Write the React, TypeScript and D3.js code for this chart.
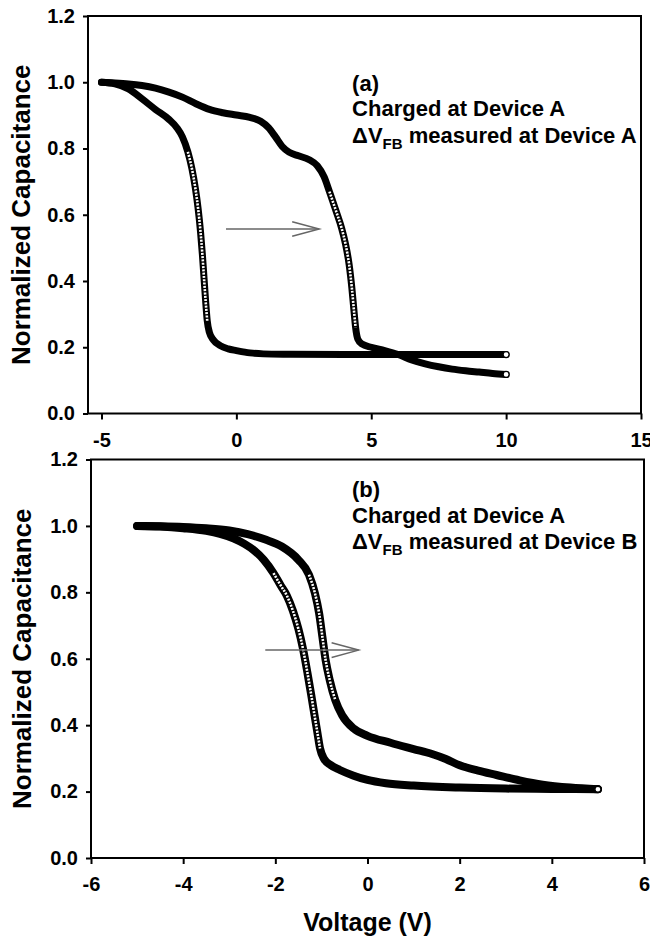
import { useEffect, useRef } from 'react';
import * as d3 from 'd3';

type Pt = [number, number];

// (a) both sweeps as [voltage, normalized capacitance]
const curveA1: Pt[] = [
  [-5.0, 1.0], [-4.5, 0.995], [-4.0, 0.98], [-3.5, 0.95], [-3.0, 0.918], [-2.5, 0.888],
  [-2.2, 0.862], [-2.0, 0.835], [-1.8, 0.79], [-1.65, 0.74], [-1.52, 0.68], [-1.42, 0.62],
  [-1.33, 0.55], [-1.26, 0.48], [-1.2, 0.41], [-1.14, 0.34], [-1.08, 0.28], [-1.0, 0.245],
  [-0.85, 0.222], [-0.6, 0.205], [-0.3, 0.195], [0.0, 0.19], [0.5, 0.183], [1.0, 0.18],
  [2.0, 0.179], [4.0, 0.178], [6.0, 0.178], [8.0, 0.178], [10.0, 0.178]
];
const curveA2: Pt[] = [
  [-5.0, 1.0], [-4.5, 0.998], [-4.0, 0.995], [-3.5, 0.99], [-3.0, 0.982], [-2.5, 0.97],
  [-2.0, 0.955], [-1.5, 0.935], [-1.0, 0.918], [-0.5, 0.908], [0.0, 0.901], [0.5, 0.894],
  [0.9, 0.882], [1.2, 0.862], [1.45, 0.835], [1.7, 0.806], [1.95, 0.789], [2.3, 0.778],
  [2.7, 0.766], [3.0, 0.748], [3.25, 0.715], [3.45, 0.67], [3.7, 0.61], [3.9, 0.56],
  [4.05, 0.51], [4.18, 0.45], [4.28, 0.38], [4.36, 0.31], [4.42, 0.26], [4.5, 0.225],
  [4.65, 0.21], [5.0, 0.2], [5.5, 0.19], [6.0, 0.178], [6.5, 0.162], [7.0, 0.15],
  [7.5, 0.141], [8.0, 0.134], [8.5, 0.129], [9.0, 0.125], [9.5, 0.121], [10.0, 0.118]
];

// (b)
const curveB1: Pt[] = [
  [-5.0, 1.0], [-4.5, 0.998], [-4.0, 0.993], [-3.5, 0.985], [-3.2, 0.976], [-2.9, 0.962],
  [-2.67, 0.946], [-2.45, 0.925], [-2.25, 0.898], [-2.04, 0.858], [-1.88, 0.82], [-1.75, 0.79],
  [-1.62, 0.745], [-1.5, 0.69], [-1.4, 0.63], [-1.3, 0.555], [-1.22, 0.49], [-1.15, 0.43],
  [-1.09, 0.38], [-1.03, 0.33], [-0.95, 0.3], [-0.8, 0.28], [-0.6, 0.265], [-0.3, 0.248],
  [0.0, 0.235], [0.4, 0.225], [1.0, 0.218], [2.0, 0.212], [3.0, 0.209], [4.0, 0.208], [5.0, 0.207]
];
const curveB2: Pt[] = [
  [-5.0, 1.0], [-4.5, 0.999], [-4.0, 0.997], [-3.5, 0.993], [-3.0, 0.986], [-2.6, 0.975],
  [-2.2, 0.958], [-1.86, 0.938], [-1.5, 0.898], [-1.27, 0.853], [-1.14, 0.797], [-1.05, 0.737],
  [-0.98, 0.667], [-0.91, 0.597], [-0.82, 0.536], [-0.7, 0.476], [-0.55, 0.43], [-0.3, 0.39],
  [0.0, 0.368], [0.5, 0.347], [1.0, 0.328], [1.4, 0.313], [1.7, 0.298], [2.0, 0.279],
  [2.4, 0.263], [2.8, 0.25], [3.3, 0.234], [3.8, 0.221], [4.4, 0.212], [5.0, 0.207]
];

const capTicks = [0, 0.2, 0.4, 0.6, 0.8, 1.0, 1.2];
const voltTicksA = [-5, 0, 5, 10, 15];
const voltTicksB = [-6, -4, -2, 0, 2, 4, 6];

// shift arrows, [from, to] in data units
const arrowA: Pt[] = [[-0.384, 0.557], [3.07, 0.557]];
const arrowB: Pt[] = [[-2.218, 0.626], [-0.193, 0.626]];

const yTitle = 'Normalized Capacitance';
const xTitle = 'Voltage (V)';

const font = '"Liberation Sans", Arial, Helvetica, sans-serif';

const panels = [
  {
    left: 88, right: 641, top: 16, bottom: 413.5, xDomain: [-5.5, 15], xTicks: voltTicksA,
    curves: [curveA1, curveA2], lineW: 7, dotSlope: 2.6,
    tag: '(a)', measuredAt: 'A', note: [4.29, 0.974] as Pt, arrow: arrowA, titleX: 30
  },
  {
    left: 91, right: 644, top: 459.5, bottom: 858, xDomain: [-6, 6], xTicks: voltTicksB,
    curves: [curveB1, curveB2], lineW: 8, dotSlope: 1.3,
    tag: '(b)', measuredAt: 'B', note: [-0.336, 1.087] as Pt, arrow: arrowB, titleX: 31
  }
];

export default function App() {
  const svgRef = useRef<SVGSVGElement>(null);

  useEffect(() => {
    const svg = d3.select(svgRef.current);
    svg.selectAll('*').remove();

    svg.append('rect').attr('width', 650).attr('height', 936).attr('fill', '#fff');

    panels.forEach((p, pi) => {
      const x = d3.scaleLinear().domain(p.xDomain).range([p.left, p.right]);
      const y = d3.scaleLinear().domain([0, 1.2]).range([p.bottom, p.top]);
      const g = svg.append('g');

      g.append('rect')
        .attr('x', p.left)
        .attr('y', p.top)
        .attr('width', p.right - p.left)
        .attr('height', p.bottom - p.top)
        .attr('fill', 'none')
        .attr('stroke', '#000')
        .attr('stroke-width', 2);

      const yAxis = g.append('g')
        .attr('transform', `translate(${p.left},0)`)
        .call(d3.axisLeft(y).tickValues(capTicks).tickFormat(d3.format('.1f') as any).tickSize(5).tickPadding(8));
      const xAxis = g.append('g')
        .attr('transform', `translate(0,${p.bottom})`)
        .call(d3.axisBottom(x).tickValues(p.xTicks).tickFormat((d: any) => String(d)).tickSize(6).tickPadding(13));

      [yAxis, xAxis].forEach(a => {
        a.select('.domain').remove();
        a.selectAll('line').attr('stroke', '#000').attr('stroke-width', 2);
        a.selectAll('text')
          .attr('font-family', font)
          .attr('font-size', 20)
          .attr('font-weight', 'bold')
          .attr('fill', '#000');
      });

      const line = d3.line<Pt>()
        .x(d => x(d[0]))
        .y(d => y(d[1]))
        .curve(d3.curveMonotoneX);

      p.curves.forEach(c => {
        g.append('path')
          .attr('d', line(c))
          .attr('fill', 'none')
          .attr('stroke', '#000')
          .attr('stroke-width', p.lineW)
          .attr('stroke-linecap', 'round')
          .attr('stroke-linejoin', 'round');
      });

      // where the sweep is steep the open markers separate: white dots inside the band
      p.curves.forEach(c => {
        const slope = (i: number) =>
          Math.abs((y(c[i + 1][1]) - y(c[i][1])) / (x(c[i + 1][0]) - x(c[i][0])));
        const steep = c.map((_, i) =>
          i > 0 && i < c.length - 1 && slope(i - 1) > p.dotSlope && slope(i) > p.dotSlope);
        const dotted = d3.line<Pt>()
          .x(d => x(d[0]))
          .y(d => y(d[1]))
          .defined((_, i) => steep[i])
          .curve(d3.curveMonotoneX);
        g.append('path')
          .attr('d', dotted(c))
          .attr('fill', 'none')
          .attr('stroke', '#fff')
          .attr('stroke-width', 2.6)
          .attr('stroke-dasharray', '2 1.3');
      });

      g.selectAll('circle.end')
        .data(p.curves.map(c => c[c.length - 1]))
        .join('circle')
        .attr('class', 'end')
        .attr('cx', d => x(d[0]))
        .attr('cy', d => y(d[1]))
        .attr('r', 3)
        .attr('fill', '#fff')
        .attr('stroke', '#000')
        .attr('stroke-width', 1.3);

      // arrow
      const [a0, a1] = p.arrow;
      const ax0 = x(a0[0]), ax1 = x(a1[0]), ay = y(a0[1]);
      const arrowG = g.append('g')
        .attr('stroke', '#666')
        .attr('stroke-width', 1.5)
        .attr('fill', 'none');
      arrowG.append('line').attr('x1', ax0).attr('y1', ay).attr('x2', ax1).attr('y2', ay);
      arrowG.append('path')
        .attr('d', `M${ax1 - 27},${ay - 7.3}L${ax1},${ay}L${ax1 - 27},${ay + 7.3}`);

      // annotation
      const nx = x(p.note[0]), ny = y(p.note[1]);
      const t = g.append('g')
        .attr('font-family', font)
        .attr('font-weight', 'bold')
        .attr('font-size', 22)
        .attr('fill', '#000');
      t.append('text').attr('x', nx).attr('y', ny).text(p.tag);
      t.append('text').attr('x', nx).attr('y', ny + 25.5).text('Charged at Device A');
      const dv = t.append('text').attr('x', nx).attr('y', ny + 52);
      dv.append('tspan').text('ΔV');
      dv.append('tspan').attr('font-size', 15).attr('dy', 6).text('FB');
      dv.append('tspan').attr('dy', -6).text(` measured at Device ${p.measuredAt}`);

      g.append('text')
        .attr('transform', `translate(${p.titleX},${(p.top + p.bottom) / 2}) rotate(-90)`)
        .attr('text-anchor', 'middle')
        .attr('font-family', font)
        .attr('font-weight', 'bold')
        .attr('font-size', 26)
        .text(yTitle);

      if (pi === panels.length - 1) {
        g.append('text')
          .attr('x', x(0))
          .attr('y', 931)
          .attr('text-anchor', 'middle')
          .attr('font-family', font)
          .attr('font-weight', 'bold')
          .attr('font-size', 25)
          .text(xTitle);
      }
    });
  }, []);

  return (
    <svg
      ref={svgRef}
      width={650}
      height={936}
      style={{ position: 'absolute', left: 0, top: 0, display: 'block' }}
    />
  );
}
